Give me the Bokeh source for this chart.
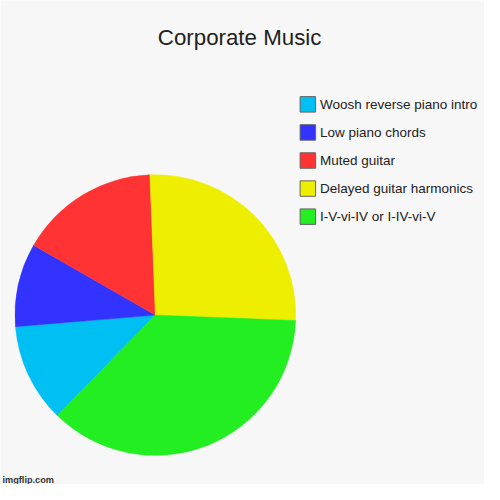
import math
from bokeh.plotting import figure
from bokeh.models import Range1d, ColumnDataSource
from bokeh.core.properties import value
from bokeh.embed import file_html
from bokeh.resources import INLINE

# ---- data ----
title = "Corporate Music"
labels = ["Woosh reverse piano intro", "Low piano chords", "Muted guitar",
          "Delayed guitar harmonics", "I-V-vi-IV or I-IV-vi-V"]
values = [11.4, 9.6, 16.1, 26.25, 36.7]
colors = ["#00BFF3", "#3333FF", "#FF3333", "#EEEE00", "#22EE22"]
watermark = "imgflip.com"

# ---- layout (reference 500px canvas scaled into 484px) ----
W, H = 484, 484
S = W / 500.0
BG = "#F7F7F7"
cx, cy, R = 160 * S, H - 325 * S, 145 * S
start_offset_deg = 224.27  # clockwise from 12 o'clock, where first slice begins

total = sum(values)
starts, ends = [], []
acc = 0.0
for v in values:
    s = math.radians(start_offset_deg + 360.0 * acc / total)
    acc += v
    e = math.radians(start_offset_deg + 360.0 * acc / total)
    starts.append(math.pi / 2 - s)
    ends.append(math.pi / 2 - e)

p = figure(width=W, height=H, x_range=Range1d(0, W), y_range=Range1d(0, H),
           output_backend="svg", toolbar_location=None, min_border=0,
           background_fill_color=BG, border_fill_color=BG)
p.axis.visible = False
p.grid.visible = False
p.outline_line_color = None

src = ColumnDataSource(dict(x=[cx] * len(values), y=[cy] * len(values),
                            start=starts, end=ends, color=colors))
p.wedge(x="x", y="y", radius=R, start_angle="start", end_angle="end",
        direction="clock", fill_color="color", line_color="color",
        line_width=0.5, source=src)

# title
p.text(x=[247 * S], y=[H - 38.3 * S], text=[title],
       text_font=value("Liberation Sans"), text_font_size="22.3px",
       text_color="#222222", text_align="center", text_baseline="alphabetic")

# legend
row0, step = H - 107.3 * S, 29 * S
ly = [row0 - step * i for i in range(len(labels))]
p.rect(x=[317.5 * S] * len(labels), y=ly, width=16 * S, height=16 * S,
       fill_color=colors, line_color="#666666", line_width=1)
p.text(x=[330 * S] * len(labels), y=ly, text=labels,
       text_font=value("Liberation Sans"), text_font_size="13.5px",
       text_color="#222222", text_align="left", text_baseline="middle")

# watermark
p.text(x=[2 * S], y=[H - 495 * S], text=[watermark],
       text_font=value("Liberation Sans"), text_font_size="9.2px",
       text_font_style="bold", text_color="#333333",
       text_align="left", text_baseline="alphabetic")

open("out.html", "w").write(file_html(p, INLINE))
